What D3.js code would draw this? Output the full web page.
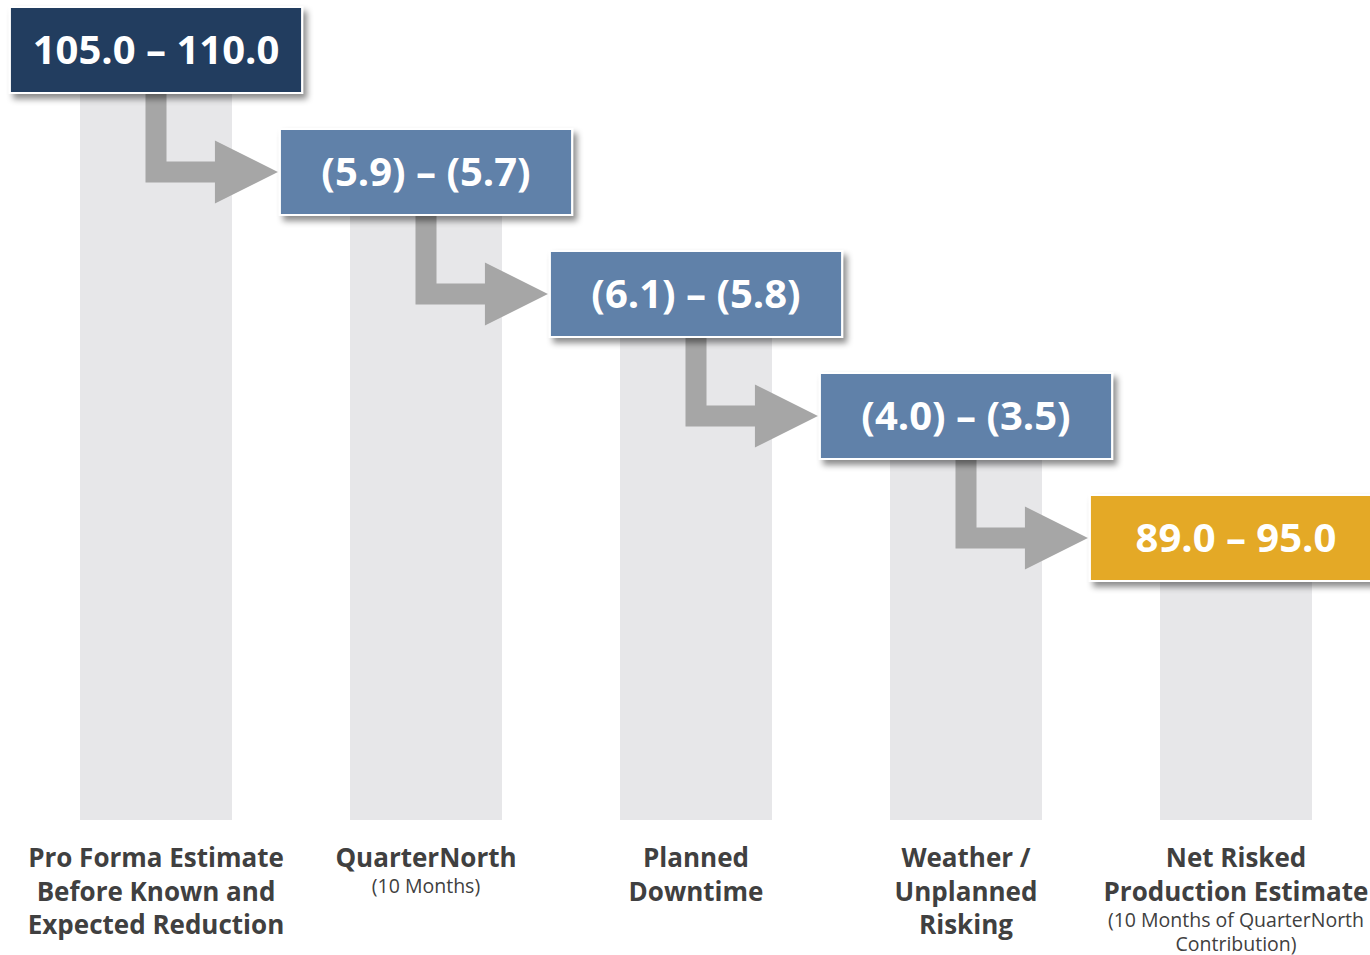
<!DOCTYPE html>
<html>
<head>
<meta charset="utf-8">
<script src="https://cdn.jsdelivr.net/npm/d3@7"></script>
<style>
  html, body { margin: 0; padding: 0; background: #fff; }
  svg { display: block; font-family: "Open Sans", "Noto Sans", sans-serif; }
</style>
</head>
<body>
<div id="chart"></div>
<script>
// values (MBoe/d style ranges)
const lowValues = [105.0, -5.9, -6.1, -4.0, 89.0];
const highValues = [110.0, -5.7, -5.8, -3.5, 95.0];
const stepKinds = ['start', 'delta', 'delta', 'delta', 'total'];
const categoryLines = [
    ['Pro Forma Estimate', 'Before Known and', 'Expected Reduction'],
    ['QuarterNorth'],
    ['Planned', 'Downtime'],
    ['Weather /', 'Unplanned', 'Risking'],
    ['Net Risked', 'Production Estimate']
];
const subLines = [
    [],
    ['(10 Months)'],
    [],
    [],
    ['(10 Months of QuarterNorth', 'Contribution)']
];

const colors = { start: '#243e5e', delta: '#6081a9', total: '#e4a928' };

const width = 1370, height = 955;
const barBottom = 820;
const boxH = 86;

const svg = d3.select('#chart').append('svg')
    .attr('width', width)
    .attr('height', height);

const defs = svg.append('defs');
const shadow = defs.append('filter')
    .attr('id', 'shadow')
    .attr('x', '-10%').attr('y', '-20%')
    .attr('width', '130%').attr('height', '160%');
shadow.append('feDropShadow')
    .attr('dx', 4).attr('dy', 5)
    .attr('stdDeviation', 3)
    .attr('flood-color', '#000')
    .attr('flood-opacity', 0.45);

const idx = d3.range(lowValues.length);

const x = d3.scaleBand()
    .domain(idx)
    .range([21, 1371])
    .paddingInner(118 / 270)
    .paddingOuter(59 / 270);
const cx = i => x(i) + x.bandwidth() / 2;
const boxW = x.step() * 1.082;

// each step sits one row lower than the one before
const row = d3.scaleLinear().domain([0, idx.length - 1]).range([7, 495]);

const fmtOne = d3.format('.1f');
const fmt = v => v < 0 ? '(' + fmtOne(-v) + ')' : fmtOne(v);

// grey columns
svg.append('g').selectAll('rect')
    .data(idx)
    .join('rect')
    .attr('x', i => x(i))
    .attr('y', i => row(i) + boxH / 2)
    .attr('width', x.bandwidth())
    .attr('height', i => barBottom - row(i) - boxH / 2)
    .attr('fill', '#e7e7e9');

// elbow arrows from one box to the next
const hw = 10.5, headLen = 63, headH = 31.5;
const arrowPath = i => {
    const x0 = cx(i);
    const top = row(i) + boxH / 2;
    const cy = row(i + 1) + boxH / 2;
    const tip = cx(i + 1) - boxW / 2 - 2;
    const headX = tip - headLen;
    return 'M' + [
        [x0 - hw, top], [x0 + hw, top], [x0 + hw, cy - hw], [headX, cy - hw],
        [headX, cy - headH], [tip, cy], [headX, cy + headH], [headX, cy + hw],
        [x0 - hw, cy + hw]
    ].map(p => p.join(',')).join('L') + 'Z';
};
svg.append('g').selectAll('path')
    .data(idx.slice(0, -1))
    .join('path')
    .attr('d', arrowPath)
    .attr('fill', '#a6a6a6');

// value boxes
const boxes = svg.append('g').selectAll('g')
    .data(idx)
    .join('g')
    .attr('transform', i => `translate(${cx(i) - boxW / 2},${row(i)})`);

boxes.append('rect')
    .attr('width', boxW)
    .attr('height', boxH)
    .attr('fill', i => colors[stepKinds[i]])
    .attr('stroke', '#fff')
    .attr('stroke-width', 2)
    .attr('filter', 'url(#shadow)');

boxes.append('text')
    .attr('x', boxW / 2)
    .attr('y', boxH / 2 + 14)
    .attr('text-anchor', 'middle')
    .attr('fill', '#fff')
    .attr('font-size', 40)
    .attr('font-weight', 700)
    .text(i => fmt(lowValues[i]) + ' \u2013 ' + fmt(highValues[i]));

// category labels: bold title lines, then lighter sub-lines
const labelG = svg.append('g').attr('fill', '#404040').attr('text-anchor', 'middle');

idx.forEach(i => {
    categoryLines[i].forEach((line, k) => {
        labelG.append('text')
            .attr('x', cx(i))
            .attr('y', 867 + k * 33.5)
            .attr('font-size', 26)
            .attr('font-weight', 700)
            .text(line);
    });
    const base = 867 + (categoryLines[i].length - 1) * 33.5;
    subLines[i].forEach((line, k) => {
        labelG.append('text')
            .attr('x', cx(i))
            .attr('y', base + 26 + k * 24)
            .attr('font-size', 19.5)
            .attr('font-weight', 400)
            .text(line);
    });
});
</script>
</body>
</html>
